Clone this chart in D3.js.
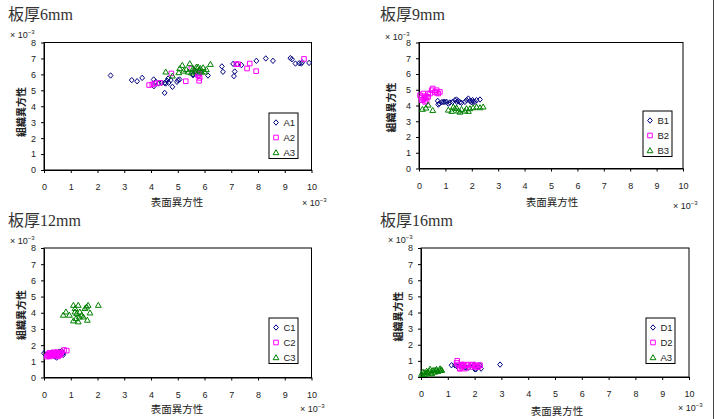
<!DOCTYPE html>
<html>
<head>
<meta charset="utf-8">
<script src="https://cdn.jsdelivr.net/npm/d3@7"></script>
<style>
  body { margin: 0; background: #fff; }
  svg { display: block; font-family: Arial, "Liberation Sans", "Noto Sans CJK JP", sans-serif; }
</style>
</head>
<body>
<svg id="chart" width="717" height="419"></svg>
<script>
// tick labels shared by every panel
const xTickValues = [0, 1, 2, 3, 4, 5, 6, 7, 8, 9, 10];
const yTickValues = [0, 1, 2, 3, 4, 5, 6, 7, 8];

// panel titles and series names
const panelTitles = ['板厚6mm', '板厚9mm', '板厚12mm', '板厚16mm'];
const seriesNames = [['A1', 'A2', 'A3'], ['B1', 'B2', 'B3'], ['C1', 'C2', 'C3'], ['D1', 'D2', 'A3']];

// [表面異方性, 組織異方性] in units of 10^-3
const seriesA1 = [[2.49,5.93],[3.28,5.64],[3.48,5.57],[3.67,5.78],[4.10,5.68],[4.11,5.26],[4.18,5.53],[4.28,5.43],
  [4.40,5.47],[4.51,5.47],[4.51,4.84],[4.55,5.43],[4.60,5.60],[4.64,5.74],[4.66,5.47],[4.74,5.64],[4.80,5.22],
  [4.97,5.53],[5.01,5.64],[5.07,5.68],[5.57,6.00],[5.57,5.95],[5.70,6.16],[5.76,5.89],[6.13,5.93],[6.65,6.50],
  [6.69,6.16],[7.07,6.66],[7.13,6.18],[7.10,5.89],[7.22,6.64],[7.38,6.58],[7.94,6.85],[8.29,7.00],[8.56,6.85],
  [9.21,7.02],[9.27,6.95],[9.40,6.68],[9.54,6.70],[9.65,6.76],[9.62,6.68],[9.91,6.72]];
const seriesA2 = [[3.93,5.33],[4.05,5.37],[4.14,5.43],[4.33,5.47],[4.76,6.06],[5.30,5.57],[5.51,6.37],[5.76,5.95],
  [5.80,5.60],[5.82,5.78],[5.80,6.05],[7.19,6.64],[7.26,6.64],[7.59,6.37],[7.69,6.68],[7.93,6.20],[9.72,6.97]];
const seriesA3 = [[4.55,6.16],[4.80,5.91],[5.04,6.12],[5.07,6.37],[5.17,6.58],[5.22,6.22],[5.32,6.31],[5.39,6.16],
  [5.45,6.68],[5.51,6.10],[5.57,6.37],[5.64,6.22],[5.70,6.47],[5.76,6.47],[5.82,6.27],[5.89,6.16],[5.95,6.43],
  [6.01,6.16],[6.07,6.31],[5.60,6.30],[5.85,6.38],[6.22,6.64]];

const seriesB1 = [[0.71,4.29],[0.73,4.06],[0.77,4.12],[0.86,4.21],[0.92,4.23],[0.98,4.23],[1.05,4.23],[1.11,4.12],
  [1.17,4.19],[1.27,4.23],[1.36,4.34],[1.42,4.38],[1.43,4.23],[1.49,4.29],[1.55,4.21],[1.61,4.17],[1.74,4.23],
  [1.80,4.34],[1.87,4.44],[1.93,4.29],[1.99,4.21],[2.03,4.34],[2.05,4.23],[2.12,4.23],[2.18,4.34],[2.31,4.38]];
const seriesB2 = [[0.04,4.65],[0.10,4.51],[0.10,4.34],[0.16,4.38],[0.16,4.76],[0.20,4.44],[0.23,4.59],[0.23,4.23],
  [0.29,4.29],[0.29,4.55],[0.35,4.55],[0.35,4.76],[0.42,4.76],[0.48,4.97],[0.52,5.08],[0.61,4.86],[0.67,4.80],
  [0.67,4.97],[0.73,4.76],[0.79,4.86]];
const seriesB3 = [[0.13,3.77],[0.26,3.85],[0.35,4.04],[0.52,3.70],[1.11,3.72],[1.24,3.64],[1.30,3.91],[1.36,3.81],
  [1.43,3.85],[1.49,3.66],[1.55,3.59],[1.61,3.77],[1.74,3.66],[1.80,3.81],[1.87,3.64],[1.93,3.81],[2.05,3.87],
  [2.18,3.91],[2.31,3.87],[2.43,3.92]];

const seriesC1 = [[0.00,1.50],[0.10,1.35],[0.15,1.42],[0.22,1.35],[0.28,1.48],[0.30,1.55],[0.35,1.43],[0.40,1.30],
  [0.45,1.55],[0.47,1.23],[0.50,1.40],[0.55,1.52],[0.57,1.60],[0.62,1.45],[0.66,1.64],[0.72,1.50],[0.72,1.40]];
const seriesC2 = [[0.10,1.29],[0.15,1.38],[0.18,1.45],[0.20,1.52],[0.22,1.30],[0.25,1.42],[0.28,1.35],[0.30,1.45],
  [0.32,1.50],[0.35,1.40],[0.38,1.55],[0.40,1.45],[0.42,1.35],[0.45,1.50],[0.47,1.56],[0.50,1.42],[0.52,1.30],
  [0.55,1.48],[0.58,1.38],[0.60,1.52],[0.62,1.42],[0.65,1.55],[0.75,1.70],[0.85,1.66]];
const seriesC3 = [[0.72,3.86],[0.82,4.06],[0.95,3.86],[1.10,4.47],[1.10,3.51],[1.16,4.27],[1.16,4.06],[1.20,3.65],
  [1.22,3.96],[1.28,4.47],[1.28,3.45],[1.32,3.75],[1.34,4.06],[1.41,3.86],[1.47,3.75],[1.53,4.27],[1.59,4.37],
  [1.62,3.55],[1.65,4.47],[1.72,4.00],[2.03,4.47]];

const seriesD1 = [[1.14,0.73],[1.27,0.73],[1.33,0.67],[1.46,0.69],[1.64,0.62],[1.68,0.58],[1.77,0.58],[1.95,0.67],
  [1.99,0.77],[2.01,0.48],[2.05,0.48],[2.14,0.62],[2.20,0.73],[2.24,0.52],[2.95,0.77]];
const seriesD2 = [[1.33,0.87],[1.35,1.00],[1.39,0.73],[1.45,0.52],[1.46,0.52],[1.52,0.62],[1.52,0.77],[1.58,0.69],
  [1.58,0.77],[1.64,0.52],[1.70,0.73],[1.76,0.77],[1.83,0.62],[1.89,0.73],[1.93,0.77],[2.01,0.67],[2.07,0.73],
  [2.08,0.62],[2.14,0.62],[2.20,0.73]];
const seriesD3 = [[0.02,0.18],[0.07,0.31],[0.12,0.28],[0.14,0.17],[0.20,0.25],[0.21,0.37],[0.26,0.31],[0.32,0.37],
  [0.34,0.50],[0.39,0.25],[0.40,0.21],[0.45,0.42],[0.51,0.31],[0.52,0.42],[0.57,0.42],[0.58,0.48],[0.63,0.35],
  [0.70,0.42],[0.71,0.52],[0.76,0.46],[0.77,0.42]];

const panelSeries = [
  [seriesA1, seriesA2, seriesA3],
  [seriesB1, seriesB2, seriesB3],
  [seriesC1, seriesC2, seriesC3],
  [seriesD1, seriesD2, seriesD3]
];

// marker styles, Excel default order: navy diamond, magenta square, green triangle
const markerColors = ['#000080', '#FF00FF', '#008000'];

const diamond = { draw(c) { c.moveTo(0, -2.7); c.lineTo(2.4, 0); c.lineTo(0, 2.7); c.lineTo(-2.4, 0); c.closePath(); } };
const square = { draw(c) { c.rect(-2.3, -2.3, 4.6, 4.6); } };
const triangle = { draw(c) { c.moveTo(0, -2.8); c.lineTo(2.9, 2.2); c.lineTo(-2.9, 2.2); c.closePath(); } };
const markerShapes = [diamond, square, triangle];

// layout of each panel on the page
const panels = [
  { plot: [44, 311.5, 42.5, 170], title: [8, 20], unitTop: [10, 38], unitBottom: [302, 206],
    xLabel: [177, 206], yLabel: [21.5, 112], legend: [269, 113] },
  { plot: [419, 683, 42.5, 168.5], title: [380, 20], unitTop: [385, 40], unitBottom: [673, 209],
    xLabel: [552, 206], yLabel: [391.5, 107.5], legend: [643, 111] },
  { plot: [44, 311.5, 248, 377.5], title: [8, 226], unitTop: [10, 244], unitBottom: [300, 412],
    xLabel: [177, 413], yLabel: [21.5, 315], legend: [269, 318] },
  { plot: [421, 689, 248, 377], title: [380, 226], unitTop: [388, 243], unitBottom: [678, 411],
    xLabel: [557, 415], yLabel: [398, 316.5], legend: [646, 318] }
];

const svg = d3.select('#chart');

function unitLabel(g, x, y) {
  const t = g.append('text')
    .attr('x', x).attr('y', y)
    .style('font-size', '9px')
    .style('fill', '#222');
  t.append('tspan').text('× 10');
  t.append('tspan').attr('dy', -4).style('font-size', '6px').text('−3');
}

panels.forEach((p, i) => {
  const [left, right, top, bottom] = p.plot;
  const g = svg.append('g');

  const x = d3.scaleLinear().domain([0, 10]).range([left, right]);
  const y = d3.scaleLinear().domain([0, 8]).range([bottom, top]);

  // plot frame
  g.append('rect')
    .attr('x', left).attr('y', top)
    .attr('width', right - left).attr('height', bottom - top)
    .attr('fill', '#fff').attr('stroke', '#000').attr('stroke-width', 1);

  const xAxis = g.append('g')
    .attr('transform', `translate(0,${bottom})`)
    .call(d3.axisBottom(x).tickValues(xTickValues).tickSize(3).tickPadding(11).tickSizeOuter(0));
  const yAxis = g.append('g')
    .attr('transform', `translate(${left},0)`)
    .call(d3.axisLeft(y).tickValues(yTickValues).tickSize(3).tickPadding(5).tickSizeOuter(0));
  [xAxis, yAxis].forEach(a => {
    a.select('.domain').attr('stroke', '#000');
    a.selectAll('.tick line').attr('stroke', '#000');
    a.selectAll('.tick text')
      .attr('font-size', 9)
      .attr('font-family', 'Arial, "Liberation Sans", sans-serif')
      .attr('fill', '#222');
  });

  // markers, series drawn in order so later ones sit on top
  panelSeries[i].forEach((data, s) => {
    const sym = d3.symbol().type(markerShapes[s]);
    g.append('g').selectAll('path')
      .data(data)
      .join('path')
        .attr('d', sym)
        .attr('transform', d => `translate(${x(d[0])},${y(d[1])})`)
        .attr('fill', 'none')
        .attr('stroke', markerColors[s])
        .attr('stroke-width', 1);
  });

  // legend
  const [lx, ly] = p.legend;
  const lg = g.append('g').attr('transform', `translate(${lx},${ly})`);
  lg.append('rect')
    .attr('width', 29).attr('height', 45.5)
    .attr('fill', '#fff').attr('stroke', '#000');
  seriesNames[i].forEach((name, s) => {
    const ry = 9.5 + s * 15;
    lg.append('path')
      .attr('d', d3.symbol().type(markerShapes[s])())
      .attr('transform', `translate(7,${ry})`)
      .attr('fill', 'none').attr('stroke', markerColors[s]);
    lg.append('text')
      .attr('x', 14.5).attr('y', ry + 3.5)
      .style('font-size', '9.5px')
      .style('fill', '#222')
      .text(name);
  });

  // titles and axis labels
  g.append('text')
    .attr('x', p.title[0]).attr('y', p.title[1])
    .style('font-size', '16px')
    .style('font-family', '"Liberation Serif", "Noto Sans CJK JP", serif')
    .style('fill', '#333')
    .text(panelTitles[i]);

  g.append('text')
    .attr('x', p.xLabel[0]).attr('y', p.xLabel[1])
    .attr('text-anchor', 'middle')
    .style('font-size', '10.5px')
    .style('font-family', '"Noto Sans CJK JP", sans-serif')
    .style('fill', '#222')
    .text('表面異方性');

  g.append('text')
    .attr('transform', `translate(${p.yLabel[0]},${p.yLabel[1]}) rotate(-90)`)
    .attr('text-anchor', 'middle')
    .attr('dy', '0.35em')
    .style('font-size', '10px')
    .style('font-weight', 'bold')
    .style('font-family', '"Noto Sans CJK JP", sans-serif')
    .style('fill', '#222')
    .text('組織異方性');

  unitLabel(g, p.unitTop[0], p.unitTop[1]);
  unitLabel(g, p.unitBottom[0], p.unitBottom[1]);
});

// page edge line on the right
svg.append('line')
  .attr('x1', 713.5).attr('x2', 713.5)
  .attr('y1', 0).attr('y2', 419)
  .attr('stroke', '#444');
</script>
</body>
</html>
